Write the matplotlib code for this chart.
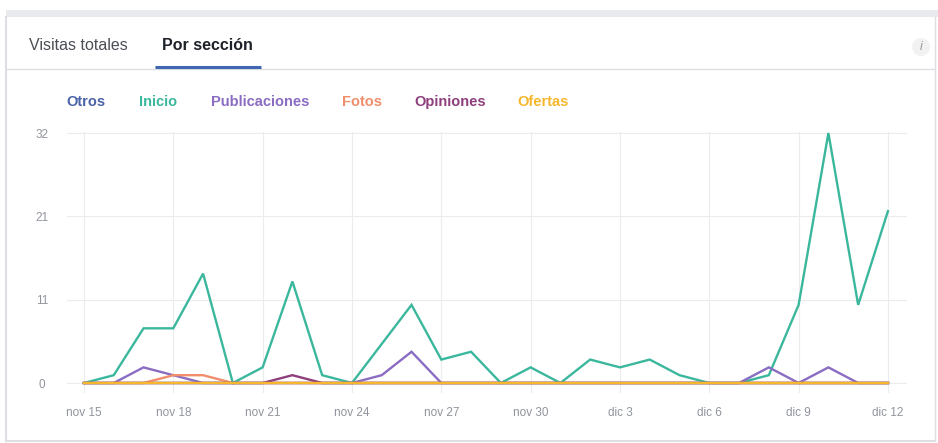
#!/usr/bin/env python3
"""
Visitas a la página por sección (nov 15 - dic 12).
Genera out.png con la pestaña "Por sección" activa.
"""

import matplotlib
matplotlib.use('Agg')
import matplotlib.pyplot as plt
from matplotlib.patches import Rectangle, Ellipse
from matplotlib.lines import Line2D

plt.rcParams['font.family'] = ['Liberation Sans', 'DejaVu Sans']

W, H = 938, 443

# días (índice desde nov 15) y etiquetas del eje x
days = list(range(28))
tick_days = [0, 3, 6, 9, 12, 15, 18, 21, 24, 27]
tick_labels = ['nov 15', 'nov 18', 'nov 21', 'nov 24', 'nov 27',
               'nov 30', 'dic 3', 'dic 6', 'dic 9', 'dic 12']

# eje y: cuatro divisiones hasta el máximo, rotuladas redondeadas
y_max = 32
y_ticks = [0, y_max / 3, 2 * y_max / 3, y_max]
y_labels = ['0', '11', '21', '32']

otros = [0] * 28
inicio = [0, 1, 7, 7, 14, 0, 2, 13, 1, 0, 5, 10, 3, 4,
          0, 2, 0, 3, 2, 3, 1, 0, 0, 1, 10, 32, 10, 22]
publicaciones = [0, 0, 2, 1, 0, 0, 0, 0, 0, 0, 1, 4, 0, 0,
                 0, 0, 0, 0, 0, 0, 0, 0, 0, 2, 0, 2, 0, 0]
fotos = [0, 0, 0, 1, 1, 0, 0, 0, 0, 0, 0, 0, 0, 0,
         0, 0, 0, 0, 0, 0, 0, 0, 0, 0, 0, 0, 0, 0]
opiniones = [0, 0, 0, 0, 0, 0, 0, 1, 0, 0, 0, 0, 0, 0,
             0, 0, 0, 0, 0, 0, 0, 0, 0, 0, 0, 0, 0, 0]
ofertas = [0] * 28

series = [
    ('Otros', otros, '#4a64a8'),
    ('Inicio', inicio, '#3ab79c'),
    ('Publicaciones', publicaciones, '#8a6cc2'),
    ('Fotos', fotos, '#f08e6c'),
    ('Opiniones', opiniones, '#8e3f7c'),
    ('Ofertas', ofertas, '#f6b72e'),
]
legend_x = [86, 158, 260, 362, 450, 543]


def fx(px):
    return px / W


def fy(py):
    return 1 - py / H


fig = plt.figure(figsize=(W / 100, H / 100), dpi=100)
fig.patch.set_facecolor('white')

# marco de la tarjeta
border = '#dddfe2'
fig.add_artist(Rectangle((fx(6), fy(17)), fx(938) - fx(6), fy(10) - fy(17),
                         transform=fig.transFigure, color='#e9eaed', lw=0))
fig.add_artist(Line2D([fx(6), fx(6)], [fy(17), fy(441)], color=border, lw=1.5))
fig.add_artist(Line2D([fx(935), fx(935)], [fy(17), fy(441)], color=border, lw=1))
fig.add_artist(Line2D([fx(6), fx(935)], [fy(441), fy(441)], color=border, lw=1.5))

# pestañas
fig.add_artist(Line2D([fx(6), fx(935)], [fy(68.5), fy(68.5)], color=border, lw=1))
fig.text(fx(78), fy(45), 'Visitas totales', fontsize=11.5, color='#4b4f56',
         ha='center', va='center')
fig.text(fx(207), fy(45), 'Por sección', fontsize=11.5, color='#1d2129',
         fontweight='bold', ha='center', va='center')
fig.add_artist(Line2D([fx(155), fx(261)], [fy(66.5), fy(66.5)],
                      color='#4267b2', lw=2.2, solid_capstyle='butt'))

# icono de información
fig.add_artist(Ellipse((fx(921), fy(47)), 18 / W, 18 / H,
                       transform=fig.transFigure, color='#f2f2f2', lw=0))
fig.text(fx(921), fy(47), 'i', fontsize=9, color='#9a9a9a', style='italic',
         ha='center', va='center')

# leyenda de colores
for (name, _, color), lx in zip(series, legend_x):
    fig.text(fx(lx), fy(102), name, fontsize=10.5, color=color,
             fontweight='bold', ha='center', va='center')

# gráfico de líneas
ax = fig.add_axes([fx(67), fy(393), fx(907) - fx(67), fy(132) - fy(393)])
for name, values, color in series:
    ax.plot(days, values, color=color, lw=1.7, solid_joinstyle='miter')

ax.set_xlim(-0.57, 27.64)
ax.set_ylim(-1.28, 32.13)
ax.set_xticks(tick_days)
ax.set_xticklabels(tick_labels)
ax.set_yticks(y_ticks)
ax.set_yticklabels(y_labels)
for lbl in ax.get_yticklabels():
    lbl.set_horizontalalignment('center')

ax.tick_params(axis='both', length=0, labelsize=8.5, labelcolor='#90949c')
ax.tick_params(axis='x', pad=10)
ax.tick_params(axis='y', pad=18)
ax.grid(True, color='#ececec', lw=0.8)
ax.set_axisbelow(True)
for spine in ax.spines.values():
    spine.set_visible(False)

fig.savefig('out.png', dpi=100)
